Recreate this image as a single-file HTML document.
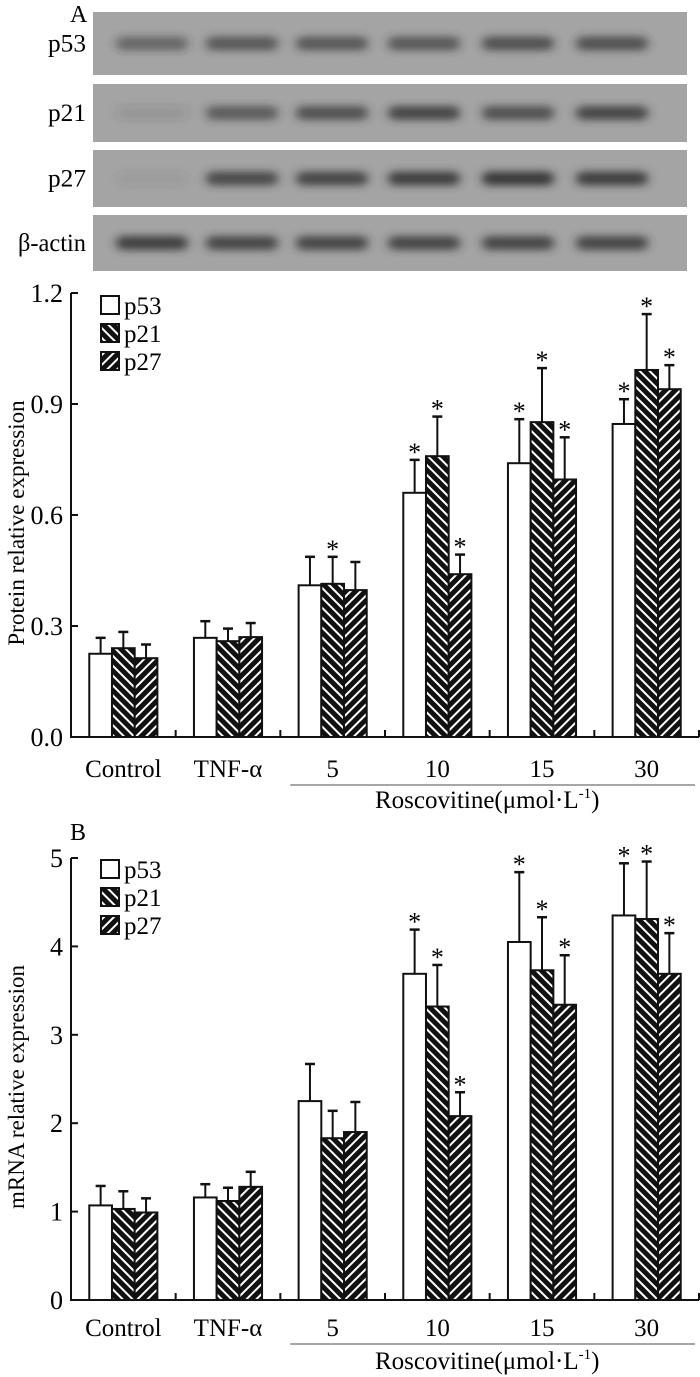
<!DOCTYPE html>
<html><head><meta charset="utf-8"><style>
html,body{margin:0;padding:0;background:#fff;}
svg{display:block;font-family:"Liberation Serif",serif;}
</style></head><body>
<svg id="fig" width="700" height="1377" viewBox="0 0 700 1377" xmlns="http://www.w3.org/2000/svg">
<defs>
<pattern id="pat21" patternUnits="userSpaceOnUse" width="7" height="7" patternTransform="rotate(-45)">
<rect width="7" height="7" fill="#111"/><rect x="0" y="0" width="2" height="7" fill="#fff"/></pattern>
<pattern id="pat27" patternUnits="userSpaceOnUse" width="7" height="7" patternTransform="rotate(45)">
<rect width="7" height="7" fill="#111"/><rect x="0" y="0" width="2" height="7" fill="#fff"/></pattern>
<filter id="blur" x="-20%" y="-60%" width="140%" height="220%"><feGaussianBlur stdDeviation="5 4"/></filter>
</defs>
<text x="70" y="22" font-size="24">A</text>
<g id="blot"></g>
<g id="chartA"></g>
<text x="70" y="840" font-size="24">B</text>
<g id="chartB"></g>
</svg>
<script>
// Blot data
const blotRows = ["p53","p21","p27","β-actin"];
const blotIntensity = [
  [0.5,0.65,0.65,0.65,0.7,0.7],
  [0.12,0.6,0.7,0.8,0.7,0.8],
  [0.08,0.75,0.8,0.85,0.9,0.85],
  [0.85,0.8,0.8,0.8,0.8,0.8]
];
// Chart data
const categories = ["Control","TNF-α","5","10","15","30"];
const seriesNames = ["p53","p21","p27"];
const protein = [[0.225,0.268,0.41,0.66,0.74,0.846],[0.24,0.259,0.414,0.759,0.851,0.992],[0.213,0.27,0.397,0.44,0.696,0.94]];
const proteinErr = [[0.268,0.313,0.487,0.749,0.859,0.913],[0.284,0.293,0.487,0.866,0.997,1.143],[0.25,0.308,0.473,0.493,0.81,1.005]];
const proteinStar = [[0,0,0,1,1,1],[0,0,1,1,1,1],[0,0,0,1,1,1]];
const proteinTicks = ["0.0","0.3","0.6","0.9","1.2"];
const mrna = [[1.07,1.16,2.25,3.69,4.05,4.35],[1.03,1.12,1.83,3.32,3.73,4.31],[0.99,1.28,1.90,2.08,3.34,3.69]];
const mrnaErr = [[1.29,1.31,2.67,4.19,4.84,4.94],[1.23,1.27,2.14,3.79,4.33,4.96],[1.15,1.45,2.24,2.35,3.90,4.15]];
const mrnaStar = [[0,0,0,1,1,1],[0,0,0,1,1,1],[0,0,0,1,1,1]];
const mrnaTicks = ["0","1","2","3","4","5"];

const NS="http://www.w3.org/2000/svg";
function mk(tag,attrs,parent){const e=document.createElementNS(NS,tag);for(const k in attrs)e.setAttribute(k,attrs[k]);parent.appendChild(e);return e;}

// blot
(function(){
  const g=document.getElementById('blot');
  const tops=[12,84,150,215], bots=[75,142,207,271];
  const lanes=[152,242,332,424,518,612];
  const labW=[38,38,38,68];
  blotRows.forEach((name,r)=>{
    const p=mk('rect',{x:93,y:tops[r],width:594,height:bots[r]-tops[r],fill:'#a4a4a4'},g);
    
    
    const cy=(tops[r]+bots[r])/2;
    blotIntensity[r].forEach((v,i)=>{
      const b=mk('rect',{x:lanes[i]-36,y:cy-7,width:72,height:14,rx:7,fill:'#2e2e2e','fill-opacity':v,filter:'url(#blur)'},g);
      
      
    });
    const t=mk('text',{x:86,y:cy+8,'font-size':25,'text-anchor':'end',textLength:labW[r],lengthAdjust:'spacingAndGlyphs'},g);t.textContent=name;
    
    
  });
})();

function drawChart(gid,vals,errs,stars,ticks,yMax,y0,yTop,title,legY,xlabY,titleY){
  const g=document.getElementById(gid);
  const x0=71,xEnd=699,gw=(xEnd-x0)/6,bw=22.7;
  const ys=v=>y0-(v/yMax)*(y0-yTop);
  for(let s=0;s<3;s++){
    for(let c=0;c<6;c++){
      const cx=x0+gw*(c+0.5);
      const x=cx-1.5*bw+s*bw;
      const fill=s===0?'#fff':(s===1?'url(#pat21)':'url(#pat27)');
      const yt=ys(vals[s][c]), ye=ys(errs[s][c]);
      const ex=x+bw/2;
      const el=mk('line',{x1:ex,y1:yt,x2:ex,y2:ye,stroke:'#111','stroke-width':2},g);
      
      
      mk('line',{x1:ex-5,y1:ye,x2:ex+5,y2:ye,stroke:'#111','stroke-width':2.5},g);
      const r=mk('rect',{x:x,y:yt,width:bw,height:y0-yt,fill:fill,stroke:'#111','stroke-width':2},g);
      
      
      if(stars[s][c]){
        const st=mk('text',{x:ex,y:ye+1,'font-size':26,'text-anchor':'middle'},g);st.textContent='*';
        
        
      }
    }
  }
  const ya=mk('line',{x1:x0,y1:yTop,x2:x0,y2:y0+1,stroke:'#111','stroke-width':2},g);
  
  
  const xa=mk('line',{x1:x0,y1:y0,x2:xEnd,y2:y0,stroke:'#111','stroke-width':2},g);
  
  
  ticks.forEach((t,i)=>{
    const v=yMax*i/(ticks.length-1);const y=ys(v);
    mk('line',{x1:x0,y1:y,x2:x0+7,y2:y,stroke:'#111','stroke-width':2},g);
    const tl=mk('text',{x:63,y:y+9,'font-size':26,'text-anchor':'end'},g);tl.textContent=t;
    
    
  });
  for(let c=1;c<=6;c++){const x=x0+gw*c;mk('line',{x1:x,y1:y0,x2:x,y2:y0-7,stroke:'#111','stroke-width':2},g);}
  categories.forEach((c,i)=>{
    const t=mk('text',{x:x0+gw*(i+0.5),y:xlabY,'font-size':25,'text-anchor':'middle'},g);t.textContent=c;
    
    
  });
  const ul=mk('line',{x1:x0+gw*2+10,y1:xlabY+8,x2:xEnd-4,y2:xlabY+8,stroke:'#888','stroke-width':1.5},g);
  
  
  const xt=mk('text',{x:375,y:titleY,'font-size':25},g);
  xt.innerHTML='Roscovitine(μmol·L<tspan dy="-10" font-size="15">-1</tspan><tspan dy="10">)</tspan>';
  
  
  const yt=mk('text',{x:0,y:0,'font-size':23,'text-anchor':'middle',transform:`translate(24,${(y0+yTop)/2+8}) rotate(-90)`},g);
  yt.textContent=title;
  
  
  seriesNames.forEach((n,i)=>{
    const y=legY+i*28;
    const fill=i===0?'#fff':(i===1?'url(#pat21)':'url(#pat27)');
    const lr=mk('rect',{x:101,y:y-9,width:18,height:18,fill:fill,stroke:'#111','stroke-width':2},g);
    
    
    const lt=mk('text',{x:124,y:y+9,'font-size':25},g);lt.textContent=n;
    
    
  });
}
drawChart('chartA',protein,proteinErr,proteinStar,proteinTicks,1.2,737,293,'Protein relative expression',305,777,808);
drawChart('chartB',mrna,mrnaErr,mrnaStar,mrnaTicks,5,1300,858,'mRNA relative expression',869,1336,1369);
</script>
</body></html>
